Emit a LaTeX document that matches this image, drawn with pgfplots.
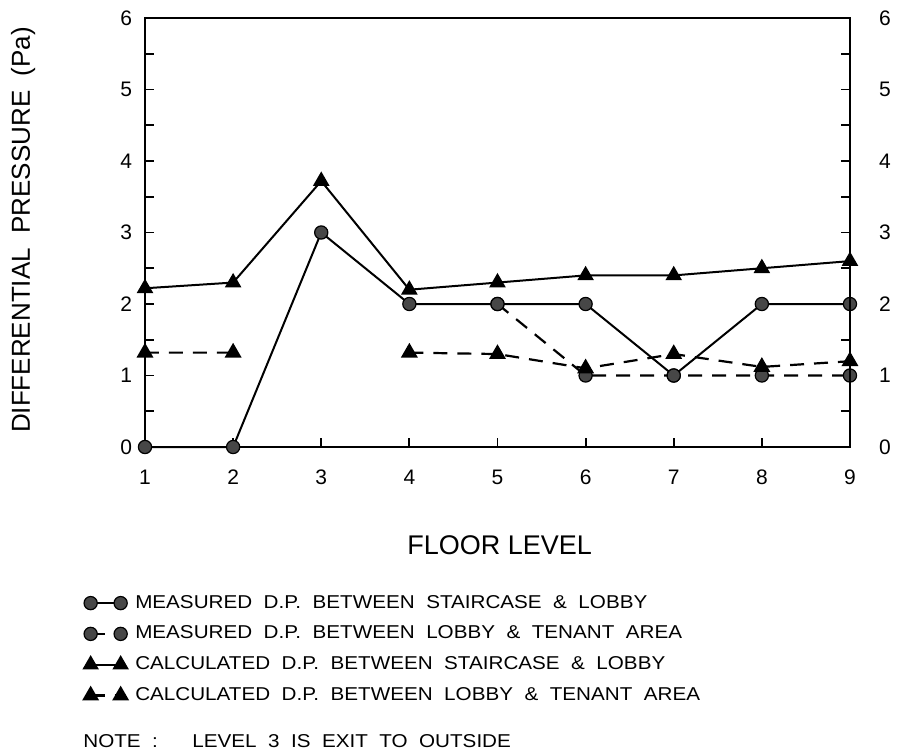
\documentclass[border=0pt]{standalone}
\usepackage{pgfplots}
\pgfplotsset{compat=1.18}
\usepackage{graphicx}
\usepackage{fontspec}
\setmainfont{Liberation Sans}
\newfontfamily\legfont[WordSpace=2]{Liberation Sans}
\newcommand{\lt}[1]{\scalebox{1.11}[1]{#1}}
\pgfplotsset{
  legsolid/.style={legend image code/.code={\draw[##1, mark=none] (6pt,0pt) -- (9pt,0pt);
    \path[mark repeat=1,mark phase=1,##1] plot coordinates {(0pt,0pt) (15pt,0pt)};}},
  legdashed/.style={legend image code/.code={\draw[##1, solid, mark=none] (3pt,0pt) -- (6.5pt,0pt);
    \path[mark repeat=1,mark phase=1,##1] plot coordinates {(0pt,0pt) (15pt,0pt)};}},
}
\begin{document}
\begin{tikzpicture}[x=1pt,y=1pt]
\path[use as bounding box] (-72.5,-154.5) rectangle (383.5,223.5);
\begin{axis}[
  at={(0,0)}, anchor=south west,
  scale only axis, width=352.5pt, height=214.5pt,
  xmin=1, xmax=9, ymin=0, ymax=6,
  xtick={1,...,9}, ytick={0,...,6}, minor y tick num=1,
  xtick pos=left, ytick pos=both,
  tick align=inside, major tick length=4.5pt, minor tick length=4.5pt,
  axis line style={line width=1pt}, tick style={line width=0.9pt, black},
  /pgf/number format/assume math mode=true,
  tick label style={font=\fontsize{10.5}{12}\selectfont},
  xticklabel style={yshift=-8pt},
  yticklabel style={xshift=-3pt},
  clip=false,
  unbounded coords=jump,
  xlabel={FLOOR LEVEL},
  xlabel style={at={(axis description cs:0.503,-0.228)}, anchor=center, font=\fontsize{13.5}{15}\selectfont},
  ylabel={DIFFERENTIAL\ \ PRESSURE\ \ (Pa)},
  ylabel style={at={(axis description cs:-0.173,0.506)}, anchor=center, rotate=0, font=\fontsize{13}{15}\selectfont},
  legend style={at={(axis description cs:-0.087,-0.335)}, anchor=north west, draw=none, fill=none,
    font=\legfont\fontsize{9.3}{11}\selectfont, row sep=3.4pt, inner sep=0pt,
    nodes={inner xsep=4pt}},
  legend cell align=left,
]
\addplot[black, line width=1pt, mark=*, mark size=3.3pt, mark options={solid, fill=black!72, draw=black, line width=0.6pt}, legsolid]
  coordinates {(1,0) (2,0) (3,3) (4,2) (5,2) (6,2) (7,1) (8,2) (9,2)};
\addlegendentry{\lt{MEASURED D.P. BETWEEN STAIRCASE \& LOBBY}}
\addplot[black, line width=1.1pt, dash pattern=on 7pt off 5pt, mark=*, mark size=3.3pt, mark options={solid, fill=black!72, draw=black, line width=0.6pt}, legdashed]
  coordinates {(5,2) (6,1) (7,1) (8,1) (9,1)};
\addlegendentry{\lt{MEASURED D.P. BETWEEN LOBBY \& TENANT AREA}}
\addplot[black, line width=1pt, mark=triangle*, mark size=3.8pt, mark options={solid, fill=black}, legsolid]
  coordinates {(1,2.22) (2,2.3) (3,3.72) (4,2.2) (5,2.3) (6,2.4) (7,2.4) (8,2.5) (9,2.6)};
\addlegendentry{\lt{CALCULATED D.P. BETWEEN STAIRCASE \& LOBBY}}
\addplot[black, line width=1.1pt, dash pattern=on 7pt off 5pt, mark=triangle*, mark size=3.8pt, mark options={solid, fill=black}, legdashed]
  coordinates {(1,1.32) (2,1.32) (3,nan) (4,1.32) (5,1.3) (6,1.1) (7,1.3) (8,1.12) (9,1.2)};
\addlegendentry{\lt{CALCULATED D.P. BETWEEN LOBBY \& TENANT AREA}}
\node[anchor=west, font=\legfont\fontsize{9.3}{11}\selectfont, inner sep=0pt] at (axis description cs:-0.088,-0.685) {\lt{NOTE :\ \ \ LEVEL 3 IS EXIT TO OUTSIDE}};
\end{axis}
\begin{axis}[
  at={(0,0)}, anchor=south west,
  scale only axis, width=352.5pt, height=214.5pt,
  xmin=1, xmax=9, ymin=0, ymax=6,
  axis x line=none, axis y line*=right,
  ytick={0,...,6}, major tick length=0pt,
  axis line style={line width=1pt, -},
  /pgf/number format/assume math mode=true,
  tick label style={font=\fontsize{10.5}{12}\selectfont},
  yticklabel style={xshift=11pt},
]
\end{axis}
\end{tikzpicture}
\end{document}
